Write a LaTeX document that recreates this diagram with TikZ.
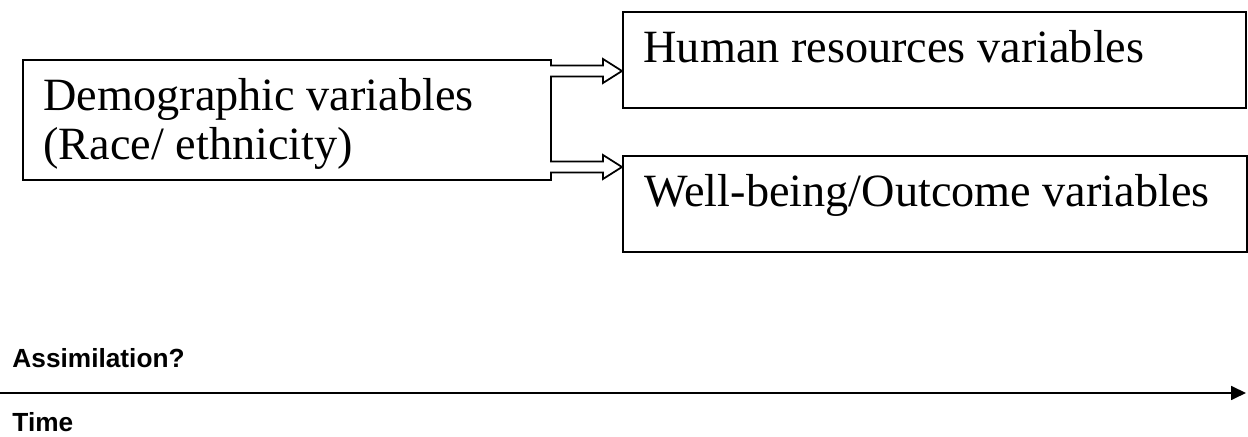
\documentclass[tikz,border=0pt]{standalone}
\usepackage{fontspec}
\setmainfont{Liberation Serif}
\setsansfont{Liberation Sans}
\usetikzlibrary{arrows.meta}

\tikzset{
  varbox/.style={draw, line width=0.7pt, inner sep=0pt, anchor=north west},
  vartext/.style={anchor=base west, inner sep=0pt, align=left,
    font=\fontsize{18.5}{19.6}\selectfont},
  axislabel/.style={anchor=base west, inner sep=0pt, font=\sffamily\bfseries\fontsize{10.5}{12}\selectfont},
  hollow/.style={draw, line width=0.7pt, fill=white}
}

\begin{document}
\begin{tikzpicture}[x=0.4pt, y=-0.4pt]
  \useasboundingbox (0,0) rectangle (1248,437);
  % boxes
  \node (demo) [varbox, minimum width=211.2pt, minimum height=48pt] at (22,59) {};
  \node (hum)  [varbox, minimum width=249.2pt, minimum height=38.4pt] at (622,11) {};
  \node (well) [varbox, minimum width=249.6pt, minimum height=38.4pt] at (622,155) {};
  % texts (base of a two-line node is its last line)
  \node (demotxt) [vartext] at (43,160) {Demographic variables\\(Race/ ethnicity)};
  \node (humtxt)  [vartext] at (643,63) {Human resources variables};
  \node (welltxt) [vartext] at (644,207) {Well-being/Outcome variables};
  % hollow arrows
  \coordinate (a1) at (550,71);
  \coordinate (a2) at (550,167);
  \foreach \a/\b in {a1/hum, a2/well}
    \draw[hollow] (\a) ++(0,-5.5) -- ++(53,0) -- ++(0,-6.5) -- (\b.west |- \a)
      -- ++(-19,12) -- ++(0,-6.5) -- ++(-53,0);
  % time axis
  \coordinate (t0) at (0,393);
  \coordinate (t1) at (1246,393);
  \draw[line width=0.7pt, -{Triangle[length=15*0.4pt, width=14*0.4pt]}] (t0) -- (t1);
  \node (assim) [axislabel] at (12,368) {Assimilation?};
  \node (time)  [axislabel] at (12,432) {Time};
\end{tikzpicture}
\end{document}
